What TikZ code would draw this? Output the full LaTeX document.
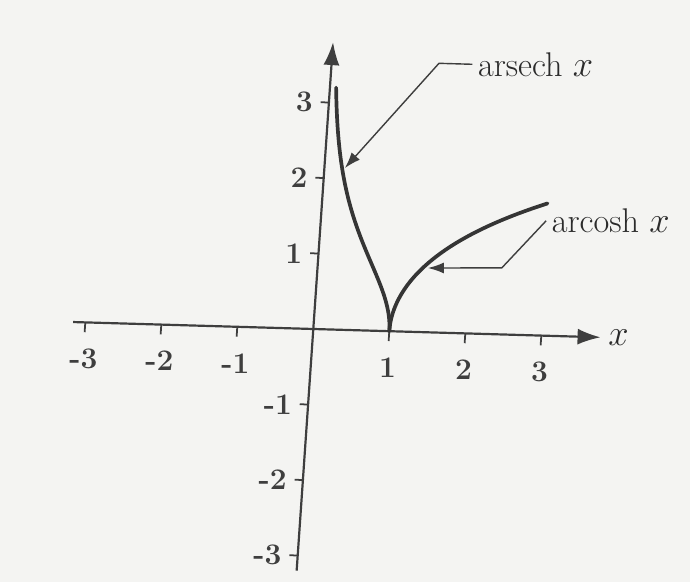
\documentclass[tikz,border=0pt]{standalone}
\usepackage{tikz}
\usetikzlibrary{arrows.meta}
\definecolor{paper}{HTML}{F4F4F2}
\definecolor{ink}{HTML}{3E3E3E}
\tikzset{
  axis/.style     = {draw=ink,line width=1.25pt,-{Latex[length=4.6mm,width=3.2mm]}},
  tickmark/.style = {draw=ink,line width=1pt},
  curve/.style    = {draw=ink!85!black,line width=2.1pt,line cap=round},
  leader/.style   = {draw=ink,line width=0.8pt,-{Latex[length=3.2mm,width=2.2mm]}},
  ticklbl/.style  = {font=\fontsize{17}{20}\selectfont\bfseries,text=ink,inner sep=0pt},
  fnlbl/.style    = {font=\fontsize{19.5}{23}\selectfont,text=ink!70!black,inner sep=3pt},
}
\begin{document}
\begin{tikzpicture}[x={(1.52cm,-0.044cm)},y={(0.104cm,1.51cm)}]
  \useasboundingbox[fill=paper] (-6.266cm,-5.06cm) rectangle (7.534cm,6.58cm);
  % Axes
  \draw[axis] (-3.16,0) -- (3.78,0);
  \draw[axis] (0,-3.2) -- (0,3.8);
  \node[font=\fontsize{19.5}{23}\selectfont,text=ink!70!black,anchor=west] (xlbl) at (3.8,0) {$x$};
  % Ticks on x
  \foreach \i in {-3,-2,-1,1,2,3}{
    \draw[tickmark] (\i,0) -- (\i,-0.13);
    \node[ticklbl,anchor=north] (xt\i) at (\i,-0.35) {\i};
  }
  % Ticks on y
  \foreach \i in {-3,-2,-1,1,2,3}{
    \draw[tickmark] (0,\i) -- (-0.11,\i);
    \node[ticklbl,anchor=east,xshift=-0.15cm] (yt\i) at (-0.11,\i) {\i};
  }
  % Curves
  \draw[curve] plot[domain=0:3.2,samples=90,smooth,variable=\t] ({1/cosh(\t)},\t);
  \draw[curve] plot[domain=0:1.75,samples=60,smooth,variable=\t] ({cosh(\t)},\t);
  % Labels and leaders
  \node[fnlbl,anchor=west] (arsechlbl) at (1.85,3.56) {arsech $x$};
  \node[fnlbl,anchor=west] (arcoshlbl) at (2.96,1.52) {arcosh $x$};
  \coordinate (sechbend) at (1.41,3.56);
  \coordinate (sechpt)   at (0.27,2.14);
  \coordinate (coshbend) at (2.42,0.88);
  \coordinate (coshpt)   at (1.45,0.85);
  \draw[leader] (arsechlbl.west) -- (sechbend) -- (sechpt);
  \draw[leader] (arcoshlbl.west) -- (coshbend) -- (coshpt);
\end{tikzpicture}
\end{document}
